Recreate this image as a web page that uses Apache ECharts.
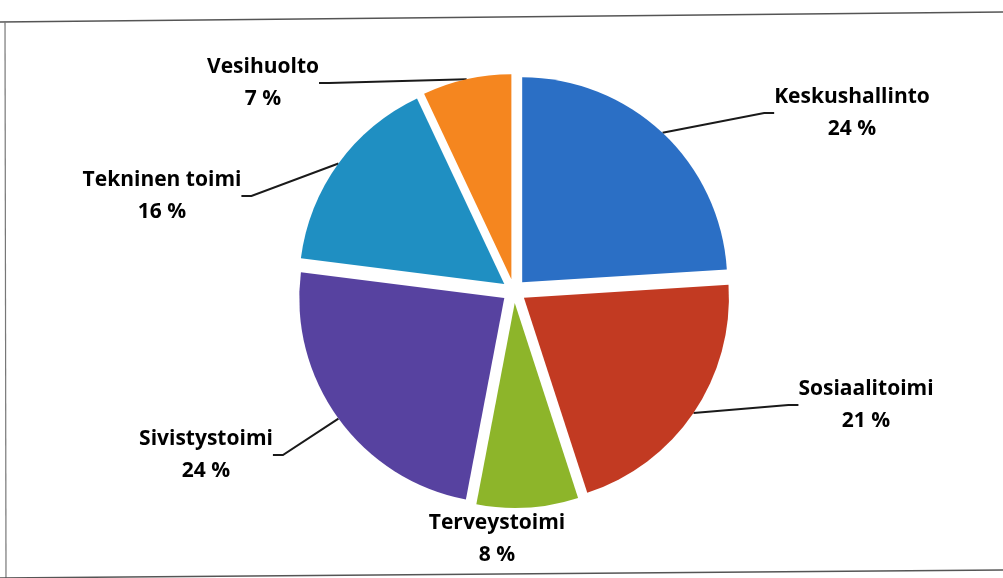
<!DOCTYPE html>
<html>
<head>
<meta charset="utf-8">
<script src="https://cdn.jsdelivr.net/npm/echarts@6/dist/echarts.min.js"></script>
<style>
html,body{margin:0;padding:0;background:#fff;}
#chart{width:1003px;height:578px;}
</style>
</head>
<body>
<div id="chart"></div>
<script>
// Data
var categories = ['Keskushallinto', 'Sosiaalitoimi', 'Terveystoimi', 'Sivistystoimi', 'Tekninen toimi', 'Vesihuolto'];
var values = [24, 21, 8, 24, 16, 7];
var colors = ['#2b6fc5', '#c23a22', '#8db52a', '#5742a0', '#1f8fc2', '#f5861f'];

// Layout (label anchor positions, pie geometry)
var labelPos = [
  [852, 113], [866, 405], [497, 539], [206, 455], [162, 196], [263, 83]
];
var CX = 514, CY = 291, R = 205, EXPLODE = 12;

var chart = echarts.init(document.getElementById('chart'), null, {renderer: 'canvas'});

var total = values.reduce(function (a, b) { return a + b; }, 0);
var cum = 0;
var series = categories.map(function (cat, k) {
  // bisector angle (clockwise from top) used to explode slice k
  var mid = (cum + values[k] / 2) / total * 2 * Math.PI;
  cum += values[k];
  var cx = CX + EXPLODE * Math.sin(mid);
  var cy = CY - EXPLODE * Math.cos(mid);
  return {
    type: 'pie',
    name: cat,
    center: [cx, cy],
    radius: [0, R],
    startAngle: 90,
    clockwise: true,
    avoidLabelOverlap: false,
    silent: true,
    emphasis: {disabled: true},
    label: {
      show: true,
      position: 'outside',
      formatter: '{b}\n{c} %',
      fontFamily: 'Open Sans',
      fontWeight: 'bold',
      fontSize: 21,
      lineHeight: 32,
      color: '#000',
      align: 'center'
    },
    labelLine: {
      show: true,
      lineStyle: {color: '#1a1a1a', width: 2},
      length: 20,
      length2: 10
    },
    labelLayout: function (params) {
      var p = labelPos[params.dataIndex];
      return {x: p[0], y: p[1], align: 'center', verticalAlign: 'middle'};
    },
    data: categories.map(function (c, i) {
      var on = i === k;
      return {
        name: c,
        value: values[i],
        itemStyle: {color: on ? colors[i] : 'rgba(0,0,0,0)'},
        label: {show: on},
        labelLine: {show: on && i !== 2}
      };
    })
  };
});

chart.setOption({
  animation: false,
  backgroundColor: '#fff',
  graphic: [
    {type: 'polyline', shape: {points: [[0, 22], [1003, 12]]}, style: {stroke: '#555', lineWidth: 1.5, fill: null}},
    {type: 'polyline', shape: {points: [[5, 21], [6, 578]]}, style: {stroke: '#777', lineWidth: 1.2, fill: null}},
    {type: 'polyline', shape: {points: [[0, 578], [1003, 570]]}, style: {stroke: '#555', lineWidth: 1.5, fill: null}}
  ],
  series: series
});
</script>
</body>
</html>
